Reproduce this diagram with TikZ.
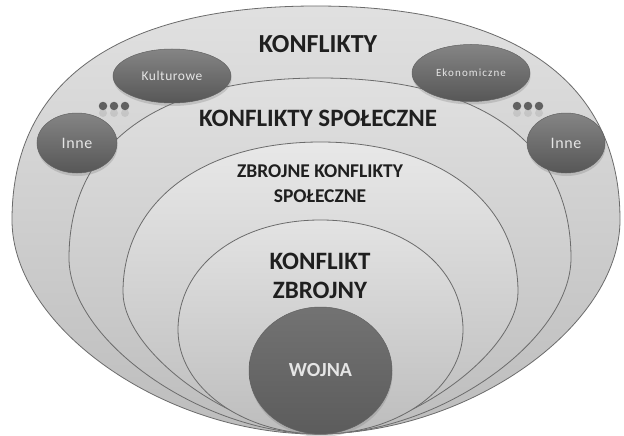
\documentclass[tikz,border=0pt]{standalone}
\usepackage{fontspec}
\setmainfont{Carlito}
\usetikzlibrary{shapes.geometric,shadows}
\tikzset{
  egg/.style n args={7}{insert path={
    ({#1},{#2-#4}) .. controls ({#1+#6*#3},{#2-#4}) and ({#1+#3},{#2-#6*#4}) .. ({#1+#3},{#2})
    .. controls ({#1+#3},{#2+#7*#5}) and ({#1+#7*#3},{#2+#5}) .. ({#1},{#2+#5})
    .. controls ({#1-#7*#3},{#2+#5}) and ({#1-#3},{#2+#7*#5}) .. ({#1-#3},{#2})
    .. controls ({#1-#3},{#2-#6*#4}) and ({#1-#6*#3},{#2-#4}) .. cycle}},
  ring/.style={draw=black!58, line width=0.8pt, top color=black!12, bottom color=black!26},
  darknode/.style={ellipse, draw=black!62, line width=0.5pt, top color=black!48, bottom color=black!66,
    text=white!90!black, inner sep=0pt,
    drop shadow={shadow xshift=0.5pt, shadow yshift=-3pt, opacity=0.3}},
  bigtext/.style={text=black!88, align=center, inner sep=0pt},
  dot/.style={circle, fill=black!62, inner sep=0pt, minimum size=8.5pt},
  dotref/.style={circle, fill=black!35, opacity=0.35, inner sep=0pt, minimum size=8pt}
}
\begin{document}
\begin{tikzpicture}[x=1pt,y=-1pt]
\useasboundingbox (0,0) rectangle (624,436);
\fill[white] (0,0) rectangle (624,436);
% nested shapes
\path[ring] [egg={316}{220}{304}{214}{214}{0.65}{0.5}];
\path[ring] [egg={320}{258}{251}{180}{176}{0.64}{0.47}];
\path[ring, top color=black!9] [egg={320.5}{292}{197.5}{150}{142}{0.6}{0.43}];
\path[ring, top color=black!11] [egg={320.5}{330}{142.5}{110}{104}{0.58}{0.55}];
% titles
\node[bigtext, font=\bfseries\fontsize{26}{28}\selectfont] (konflikty) at (318,44.5) {KONFLIKTY};
\node[bigtext, font=\bfseries\fontsize{25}{28}\selectfont] (spoleczne) at (318,118.5) {KONFLIKTY SPOŁECZNE};
\node[bigtext, font=\bfseries\fontsize{19.5}{25}\selectfont] (zbrojne) at (320,183.5) {ZBROJNE KONFLIKTY\\SPOŁECZNE};
\node[bigtext, font=\bfseries\fontsize{25}{29}\selectfont] (konflikt) at (320,276) {KONFLIKT\\ZBROJNY};
% war
\node[darknode, minimum width=143pt, minimum height=127pt, top color=black!55, bottom color=black!64,
  font=\bfseries\fontsize{20}{22}\selectfont] (wojna) at (320.5,370.5) {WOJNA};
% small nodes
\node[darknode, minimum width=118pt, minimum height=54pt, font=\fontsize{13.5}{15}\selectfont\addfontfeature{LetterSpace=4}] (kult) at (172,76) {Kulturowe};
\node[darknode, minimum width=118pt, minimum height=57pt, font=\fontsize{11}{12}\selectfont\addfontfeature{LetterSpace=10}] (ekon) at (471,73) {Ekonomiczne};
\node[darknode, minimum width=80pt, minimum height=60pt, font=\fontsize{16}{18}\selectfont\addfontfeature{LetterSpace=4}] (innel) at (77,143) {Inne};
\node[darknode, minimum width=78pt, minimum height=60pt, font=\fontsize{16}{18}\selectfont\addfontfeature{LetterSpace=4}] (inner) at (566,143) {Inne};
% dots
\foreach \x in {103,114,125,517,528,539}{
  \node[dotref] at (\x,113) {};
  \node[dot] at (\x,106) {};
}
\end{tikzpicture}
\end{document}
